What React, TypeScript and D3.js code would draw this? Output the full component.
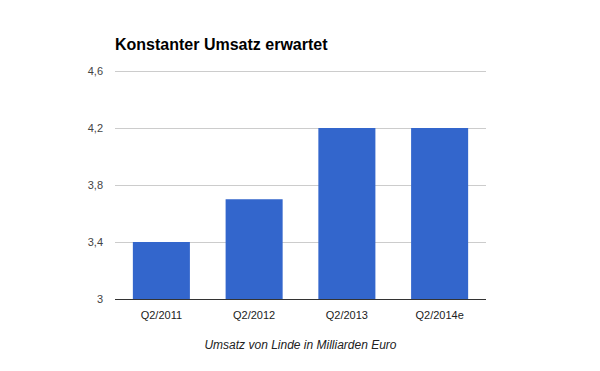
import { useRef, useEffect } from 'react'
import * as d3 from 'd3'

const categories = ['Q2/2011', 'Q2/2012', 'Q2/2013', 'Q2/2014e']
const umsatz = [3.4, 3.7, 4.2, 4.2]
const yTicks = [3, 3.4, 3.8, 4.2, 4.6]

const width = 600
const height = 371
const margin = { top: 71, right: 114, bottom: 72, left: 115 }

export default function App() {
  const svgRef = useRef<SVGSVGElement>(null)

  useEffect(() => {
    if (!svgRef.current) return
    const svg = d3.select(svgRef.current)
    svg.selectAll('*').remove()

    const x = d3.scaleBand<string>()
      .domain(categories)
      .range([margin.left, width - margin.right])
      .paddingInner(0.385)
      .paddingOuter(0.1925)

    const y = d3.scaleLinear()
      .domain([3, 4.6])
      .range([height - margin.bottom, margin.top])

    svg.append('rect')
      .attr('width', width)
      .attr('height', height)
      .attr('fill', '#fff')

    // grid lines
    svg.append('g')
      .selectAll('line')
      .data(yTicks.slice(1))
      .enter()
      .append('line')
      .attr('x1', margin.left)
      .attr('x2', width - margin.right)
      .attr('y1', d => Math.round(y(d)) + 0.5)
      .attr('y2', d => Math.round(y(d)) + 0.5)
      .attr('stroke', '#cccccc')
      .attr('stroke-width', 1)

    // tick labels
    svg.append('g')
      .selectAll('text')
      .data(yTicks)
      .enter()
      .append('text')
      .attr('x', margin.left - 12)
      .attr('y', d => y(d) + 4)
      .attr('text-anchor', 'end')
      .attr('fill', '#444')
      .attr('font-size', '11px')
      .attr('font-family', 'Liberation Sans, Arial, sans-serif')
      .text(d => d3.format('.1f')(d).replace(/\.0$/, '').replace('.', ','))

    // bars
    svg.append('g')
      .selectAll('rect')
      .data(umsatz)
      .enter()
      .append('rect')
      .attr('x', (_, i) => x(categories[i])!)
      .attr('width', x.bandwidth())
      .attr('y', d => y(d))
      .attr('height', d => y(3) - y(d))
      .attr('fill', '#3366cc')

    // baseline
    svg.append('line')
      .attr('x1', margin.left)
      .attr('x2', width - margin.right)
      .attr('y1', y(3) + 0.5)
      .attr('y2', y(3) + 0.5)
      .attr('stroke', '#333')
      .attr('stroke-width', 1)

    // category labels
    svg.append('g')
      .selectAll('text')
      .data(categories)
      .enter()
      .append('text')
      .attr('x', d => x(d)! + x.bandwidth() / 2)
      .attr('y', y(3) + 20)
      .attr('text-anchor', 'middle')
      .attr('fill', '#222')
      .attr('font-size', '11px')
      .attr('font-family', 'Liberation Sans, Arial, sans-serif')
      .text(d => d)

    // title
    svg.append('text')
      .attr('x', margin.left)
      .attr('y', 50)
      .attr('fill', '#000')
      .attr('font-size', '16px')
      .attr('font-weight', 'bold')
      .attr('font-family', 'Liberation Sans, Arial, sans-serif')
      .text('Konstanter Umsatz erwartet')

    // axis title
    svg.append('text')
      .attr('x', (margin.left + width - margin.right) / 2)
      .attr('y', 349)
      .attr('text-anchor', 'middle')
      .attr('fill', '#222')
      .attr('font-size', '12px')
      .attr('font-style', 'italic')
      .attr('font-family', 'Liberation Sans, Arial, sans-serif')
      .text('Umsatz von Linde in Milliarden Euro')
  }, [])

  return (
    <svg
      ref={svgRef}
      width={width}
      height={height}
      style={{ position: 'absolute', left: 0, top: 0, display: 'block' }}
    />
  )
}
